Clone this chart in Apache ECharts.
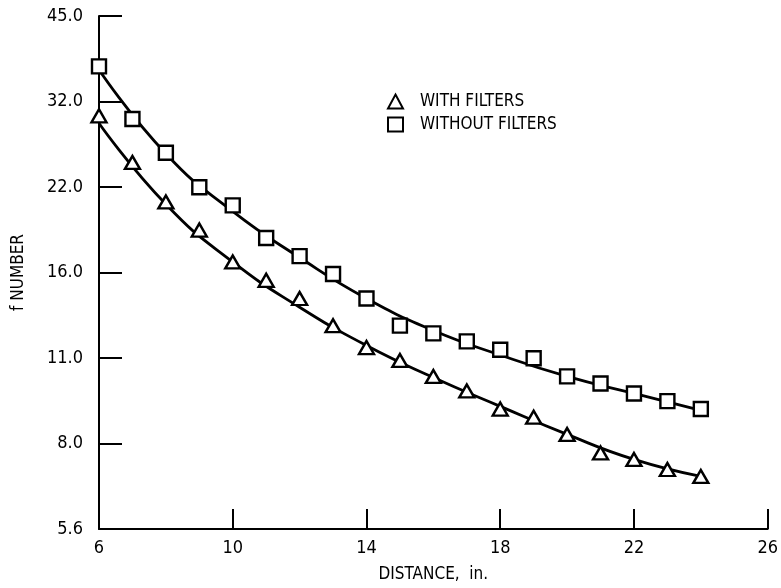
<!DOCTYPE html>
<html>
<head>
<meta charset="utf-8">
<script src="https://cdn.jsdelivr.net/npm/echarts@6/dist/echarts.min.js"></script>
<style>
  html, body { margin: 0; padding: 0; background: #fff; }
  #main { width: 781px; height: 588px; }
</style>
</head>
<body>
<div id="main"></div>
<script>
// distance, in.
var distance = [6, 7, 8, 9, 10, 11, 12, 13, 14, 15, 16, 17, 18, 19, 20, 21, 22, 23, 24]
// f number, measured points
var withFilters = [30.2, 25.0, 21.3, 19.0, 16.7, 15.5, 14.4, 12.9, 11.8, 11.2, 10.5, 9.9, 9.2, 8.9, 8.3, 7.7, 7.5, 7.2, 7.0]
var withoutFilters = [36.9, 29.8, 26.0, 22.6, 21.0, 18.4, 17.1, 15.9, 14.4, 12.9, 12.5, 12.1, 11.7, 11.3, 10.5, 10.2, 9.8, 9.5, 9.2]
// faired curves
var curveX = [6, 8, 10, 12, 14, 16, 18, 20, 22, 24]
var withCurve = [29.3, 21.1, 16.7, 13.9, 11.9, 10.45, 9.3, 8.3, 7.5, 7.0]
var withoutCurve = [36.4, 25.9, 20.5, 17.0, 14.4, 12.65, 11.45, 10.5, 9.8, 9.15]
// y tick labels (one f-stop apart)
var yTickLabels = ['5.6', '8.0', '11.0', '16.0', '22.0', '32.0', '45.0']

var font = "'DejaVu Sans Condensed', 'Liberation Sans Narrow', sans-serif"

function pairs (xs, ys) {
  return xs.map(function (x, i) { return [x, ys[i]] })
}

var myChart = echarts.init(document.getElementById('main'))

myChart.setOption({
  animation: false,
  grid: { left: 99, right: 8, top: 16, bottom: 56 },
  legend: {
    data: ['WITH FILTERS', 'WITHOUT FILTERS'],
    orient: 'vertical',
    left: 382,
    top: 88,
    itemWidth: 15,
    itemHeight: 14,
    itemGap: 6,
    textStyle: { fontFamily: font, fontSize: 17, color: '#000', padding: [0, 0, 0, 12] }
  },
  xAxis: {
    type: 'value',
    min: 6,
    max: 26,
    interval: 4,
    name: 'DISTANCE,  in.',
    nameLocation: 'middle',
    nameGap: 37,
    nameTextStyle: { fontFamily: font, fontSize: 17, color: '#000' },
    axisLine: { lineStyle: { color: '#000', width: 2 } },
    axisTick: { inside: true, length: 20, lineStyle: { color: '#000', width: 2 } },
    axisLabel: { fontFamily: font, fontSize: 18, color: '#000', margin: 10 },
    splitLine: { show: false }
  },
  yAxis: {
    type: 'log',
    logBase: Math.SQRT2,
    min: Math.pow(Math.SQRT2, 5),
    max: Math.pow(Math.SQRT2, 11),
    interval: 1,
    name: 'f NUMBER',
    nameLocation: 'middle',
    nameGap: 72,
    nameTextStyle: { fontFamily: font, fontSize: 17, color: '#000' },
    axisLine: { show: true, lineStyle: { color: '#000', width: 2 } },
    axisTick: { show: true, inside: true, length: 23, lineStyle: { color: '#000', width: 2 } },
    axisLabel: {
      fontFamily: font,
      fontSize: 18,
      color: '#000',
      margin: 16,
      formatter: function (v) {
        var i = Math.round(Math.log(v) / Math.log(Math.SQRT2)) - 5
        return yTickLabels[i] || ''
      }
    },
    splitLine: { show: false }
  },
  series: [
    {
      name: 'with curve',
      type: 'line',
      smooth: true,
      showSymbol: false,
      data: pairs(curveX, withCurve),
      lineStyle: { color: '#000', width: 2.8 },
      z: 2
    },
    {
      name: 'without curve',
      type: 'line',
      smooth: true,
      showSymbol: false,
      data: pairs(curveX, withoutCurve),
      lineStyle: { color: '#000', width: 2.8 },
      z: 2
    },
    {
      name: 'WITH FILTERS',
      type: 'scatter',
      symbol: 'triangle',
      symbolSize: [15, 13],
      data: pairs(distance, withFilters),
      itemStyle: { color: '#fff', borderColor: '#000', borderWidth: 2.4, opacity: 1 },
      z: 5
    },
    {
      name: 'WITHOUT FILTERS',
      type: 'scatter',
      symbol: 'rect',
      symbolSize: 14,
      data: pairs(distance, withoutFilters),
      itemStyle: { color: '#fff', borderColor: '#000', borderWidth: 2.4, opacity: 1 },
      z: 5
    }
  ]
})
</script>
</body>
</html>
